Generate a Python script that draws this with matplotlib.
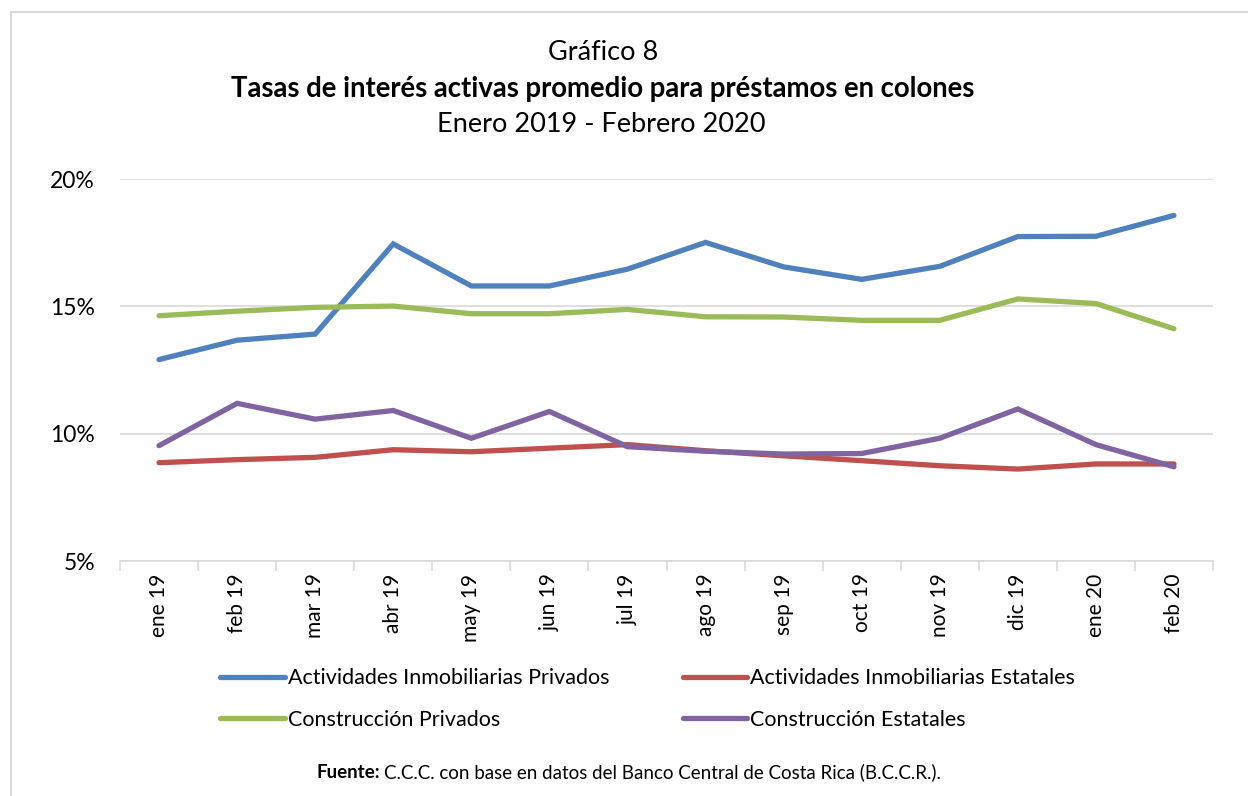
import matplotlib.pyplot as plt
from matplotlib.patches import Rectangle
from matplotlib.ticker import FuncFormatter

plt.rcParams['font.family'] = ['Lato', 'DejaVu Sans']

meses = ["ene 19", "feb 19", "mar 19", "abr 19", "may 19", "jun 19", "jul 19",
         "ago 19", "sep 19", "oct 19", "nov 19", "dic 19", "ene 20", "feb 20"]

inmob_privados = [12.91, 13.67, 13.91, 17.45, 15.80, 15.80, 16.46,
                  17.51, 16.55, 16.06, 16.57, 17.74, 17.75, 18.57]
inmob_estatales = [8.86, 8.98, 9.07, 9.37, 9.29, 9.43, 9.57,
                   9.33, 9.13, 8.94, 8.74, 8.61, 8.81, 8.81]
constr_privados = [14.63, 14.81, 14.96, 15.01, 14.71, 14.71, 14.88,
                   14.59, 14.58, 14.45, 14.45, 15.29, 15.11, 14.12]
constr_estatales = [9.53, 11.19, 10.57, 10.91, 9.82, 10.87, 9.49,
                    9.31, 9.20, 9.22, 9.82, 10.97, 9.57, 8.70]

series = [
    ("Actividades Inmobiliarias Privados", inmob_privados, "#4F81BD"),
    ("Actividades Inmobiliarias Estatales", inmob_estatales, "#C0504D"),
    ("Construcción Privados", constr_privados, "#9BBB59"),
    ("Construcción Estatales", constr_estatales, "#8064A2"),
]

fig = plt.figure(figsize=(12.48, 7.96), dpi=100)
ax = fig.add_axes([120/1248, 1 - 561/796, (1213 - 120)/1248, (561 - 179)/796])

x = list(range(len(meses)))
handles = []
for name, vals, col in series:
    h, = ax.plot(x, vals, color=col, lw=3.8, solid_capstyle='round',
                 solid_joinstyle='miter', label=name, zorder=3)
    handles.append(h)

ax.set_xlim(-0.5, len(meses) - 0.5)
ax.set_ylim(5, 20)
ax.set_yticks([5, 10, 15, 20])
ax.yaxis.set_major_formatter(FuncFormatter(lambda v, p: "{:.0f}%".format(v)))
ax.grid(axis='y', color='#d9d9d9', lw=1.2, zorder=0)
for s in ['top', 'right', 'left']:
    ax.spines[s].set_visible(False)
ax.spines['bottom'].set_color('#d9d9d9')
ax.spines['bottom'].set_linewidth(1.2)

ax.set_xticks(x)
ax.set_xticklabels(meses, rotation=90, fontsize=15)
ax.tick_params(axis='x', length=0, pad=9)
ax.set_xticks([i - 0.5 for i in range(len(meses) + 1)], minor=True)
ax.tick_params(axis='x', which='minor', length=7, color='#d9d9d9', width=1.2)
ax.tick_params(axis='y', length=0, labelsize=16.5, pad=18)

fig.text(0.483, 0.934, "Gráfico 8", ha='center', va='center', fontsize=19.5)
fig.text(0.483, 0.888, "Tasas de interés activas promedio para préstamos en colones",
         ha='center', va='center', fontsize=19.8, fontweight='bold')
fig.text(0.482, 0.844, "Enero 2019 - Febrero 2020", ha='center', va='center', fontsize=19.5)

# orden por filas: azul y rojo arriba, verde y morado abajo
orden = [handles[0], handles[2], handles[1], handles[3]]
fig.legend(handles=orden, loc='center', bbox_to_anchor=(0.519, 0.122), ncol=2,
           frameon=False, fontsize=15.5, handlelength=3.0, handletextpad=0.15,
           columnspacing=3.4, labelspacing=1.0)

fig.text(0.3045, 0.030, "Fuente:", ha='right', va='center', fontsize=13.5, fontweight='bold')
fig.text(0.3077, 0.030, "C.C.C. con base en datos del Banco Central de Costa Rica (B.C.C.R.).",
         ha='left', va='center', fontsize=13.5)

fig.patches.append(Rectangle((11/1248, -0.01), 1.2, 1 - 12/796 + 0.01,
                             transform=fig.transFigure, fill=False,
                             edgecolor='#d9d9d9', lw=1.5))

fig.savefig("out.png", dpi=100)
